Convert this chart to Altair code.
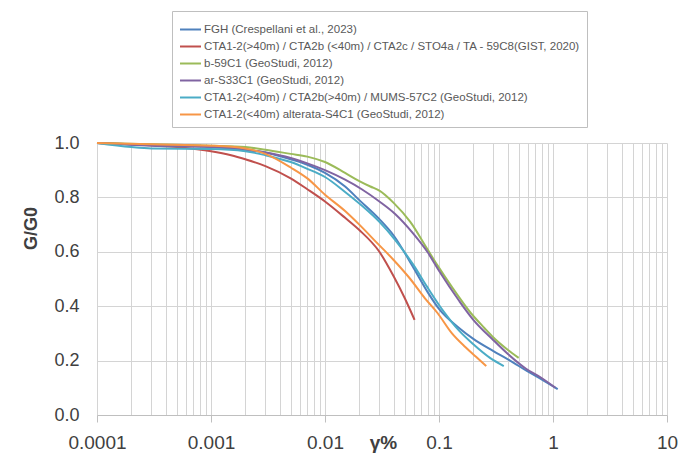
import altair as alt
import pandas as pd

# ---- data ----
series_names = [
    "FGH (Crespellani et al., 2023)",
    "CTA1-2(>40m) / CTA2b (<40m) / CTA2c / STO4a / TA - 59C8(GIST, 2020)",
    "b-59C1 (GeoStudi, 2012)",
    "ar-S33C1 (GeoStudi, 2012)",
    "CTA1-2(>40m) / CTA2b(>40m) / MUMS-57C2 (GeoStudi, 2012)",
    "CTA1-2(<40m) alterata-S4C1 (GeoStudi, 2012)",
]
series_colors = ["#4F81BD", "#C0504D", "#9BBB59", "#8064A2", "#4BACC6", "#F79646"]

fgh_x = [0.0001, 0.0002, 0.0005, 0.001, 0.002, 0.003, 0.005, 0.007, 0.01, 0.015, 0.02, 0.03,
         0.04, 0.06, 0.08, 0.1, 0.15, 0.2, 0.3, 0.42, 0.6, 0.8, 1.1]
fgh_y = [1.0, 0.995, 0.99, 0.985, 0.975, 0.965, 0.94, 0.92, 0.89, 0.84, 0.79, 0.72,
         0.66, 0.54, 0.45, 0.39, 0.32, 0.28, 0.235, 0.20, 0.16, 0.13, 0.095]

red_x = [0.0001, 0.0002, 0.0005, 0.001, 0.0015, 0.002, 0.003, 0.005, 0.007, 0.01, 0.015, 0.02,
         0.03, 0.04, 0.05, 0.061]
red_y = [1.0, 0.995, 0.985, 0.97, 0.955, 0.94, 0.915, 0.87, 0.83, 0.785, 0.725, 0.68,
         0.60, 0.51, 0.43, 0.35]

grn_x = [0.0001, 0.0003, 0.001, 0.002, 0.003, 0.005, 0.007, 0.01, 0.015, 0.02, 0.025, 0.03,
         0.04, 0.056, 0.079, 0.097, 0.13, 0.19, 0.25, 0.3, 0.4, 0.5]
grn_y = [1.0, 0.995, 0.99, 0.985, 0.975, 0.96, 0.95, 0.93, 0.89, 0.86, 0.84, 0.825,
         0.78, 0.71, 0.61, 0.55, 0.47, 0.375, 0.32, 0.285, 0.24, 0.21]

pur_x = [0.0001, 0.0003, 0.001, 0.002, 0.003, 0.005, 0.007, 0.01, 0.015, 0.021, 0.03, 0.041,
         0.06, 0.079, 0.1, 0.15, 0.2, 0.3, 0.4, 0.58, 0.8, 1.05]
pur_y = [1.0, 0.99, 0.985, 0.975, 0.965, 0.945, 0.925, 0.90, 0.865, 0.83, 0.785, 0.74,
         0.665, 0.60, 0.53, 0.42, 0.35, 0.275, 0.225, 0.17, 0.135, 0.10]

aqu_x = [0.0001, 0.0002, 0.0003, 0.001, 0.002, 0.003, 0.005, 0.007, 0.01, 0.015, 0.021, 0.03,
         0.041, 0.06, 0.079, 0.11, 0.15, 0.2, 0.28, 0.37]
aqu_y = [1.0, 0.985, 0.98, 0.978, 0.97, 0.955, 0.93, 0.905, 0.875, 0.82, 0.77, 0.71,
         0.645, 0.55, 0.47, 0.38, 0.31, 0.26, 0.21, 0.18]

org_x = [0.0001, 0.0003, 0.001, 0.002, 0.003, 0.005, 0.007, 0.01, 0.015, 0.02, 0.029, 0.04,
         0.056, 0.075, 0.097, 0.13, 0.17, 0.21, 0.26]
org_y = [1.0, 0.995, 0.99, 0.98, 0.96, 0.91, 0.87, 0.81, 0.75, 0.70, 0.63, 0.57,
         0.50, 0.43, 0.375, 0.30, 0.25, 0.215, 0.18]

all_x = [fgh_x, red_x, grn_x, pur_x, aqu_x, org_x]
all_y = [fgh_y, red_y, grn_y, pur_y, aqu_y, org_y]

decades = [0.0001, 0.001, 0.01, 0.1, 1, 10]
x_grid = [round(m * d, 6) for d in decades[:-1] for m in range(1, 10)] + [10]
y_ticks = [0.0, 0.2, 0.4, 0.6, 0.8, 1.0]

rows = []
for name, xs, ys in zip(series_names, all_x, all_y):
    for i, (xv, yv) in enumerate(zip(xs, ys)):
        rows.append({"series": name, "x": xv, "y": yv, "order": i})
df = pd.DataFrame(rows)

is_decade = "indexof([0.0001,0.001,0.01,0.1,1,10], datum.value) >= 0"

chart = (
    alt.Chart(df)
    .mark_line(strokeWidth=2, interpolate="monotone")
    .encode(
        x=alt.X(
            "x:Q",
            scale=alt.Scale(type="log", domain=[0.0001, 10]),
            axis=alt.Axis(
                title="γ%",
                values=x_grid,
                format="~g",
                labelExpr=f"{is_decade} ? datum.label : ''",
                labelFontSize=19,
                labelColor="#404040",
                labelPadding=11,
                labelFlush=False,
                labelOverlap=False,
                tickSize=7,
                tickColor="#bfbfbf",
                tickOpacity={"condition": {"test": is_decade, "value": 1}, "value": 0},
                gridColor="#d4d4d4",
                domainColor="#bfbfbf",
                titleFontSize=19,
                titleFontWeight="bold",
                titleColor="#404040",
                titleX=286,
                titleY=18,
                titleAlign="center",
                titleBaseline="top",
            ),
        ),
        y=alt.Y(
            "y:Q",
            scale=alt.Scale(domain=[0, 1]),
            axis=alt.Axis(
                title="G/G0",
                values=y_ticks,
                format=".1f",
                labelFontSize=18,
                labelColor="#404040",
                labelPadding=18,
                ticks=False,
                domain=False,
                gridColor="#d4d4d4",
                titleFontSize=18,
                titleFontWeight="bold",
                titleColor="#404040",
                titleAngle=270,
                titleX=-66,
                titleY=85,
                titleAlign="center",
                titleBaseline="middle",
            ),
        ),
        color=alt.Color(
            "series:N",
            scale=alt.Scale(domain=series_names, range=series_colors),
            sort=series_names,
            legend=alt.Legend(
                title=None,
                orient="none",
                legendX=75,
                legendY=-132,
                symbolType="stroke",
                symbolSize=440,
                symbolStrokeWidth=2,
                labelFontSize=11.5,
                labelColor="#595959",
                labelLimit=500,
                labelOffset=2,
                rowPadding=-2,
                padding=7,
                strokeColor="#bfbfbf",
                fillColor="white",
            ),
        ),
        order="order:Q",
    )
    .properties(
        width=570,
        height=272,
        autosize=alt.AutoSizeParams(type="none"),
        padding={"left": 97, "top": 143, "right": 14, "bottom": 40},
    )
    .configure(font="Liberation Sans")
    .configure_view(stroke=None)
)

chart.save("out.html", embed_options={"renderer": "svg", "actions": False})
